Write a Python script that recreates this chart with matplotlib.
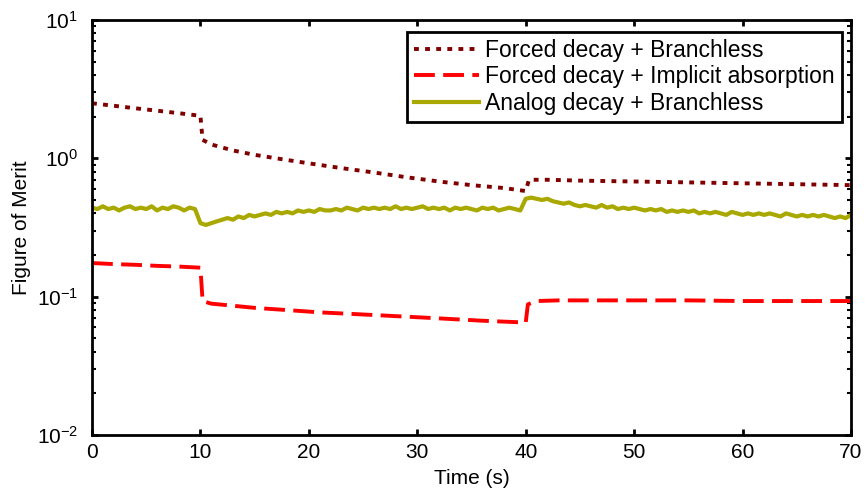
import numpy as np
import matplotlib
matplotlib.use("Agg")
import matplotlib.pyplot as plt
from matplotlib.ticker import LogLocator, NullFormatter

plt.rcParams['font.family'] = ['Liberation Sans', 'DejaVu Sans']
plt.rcParams['mathtext.fontset'] = 'custom'
plt.rcParams['mathtext.rm'] = 'Liberation Sans'
plt.rcParams['mathtext.it'] = 'Liberation Sans'
plt.rcParams['mathtext.default'] = 'regular'
plt.rcParams['lines.scale_dashes'] = False

labels = ["Forced decay + Branchless",
          "Forced decay + Implicit absorption",
          "Analog decay + Branchless"]
colors = ["#800000", "#FF0000", "#A8A800"]

# Forced decay + Branchless
t_fb = [0, 2, 4, 6, 8, 10, 10.2, 11, 13, 15, 17, 20, 23, 26, 29, 32, 35, 38, 40,
        40.3, 42, 45, 50, 55, 60, 65, 70]
v_fb = [2.50, 2.40, 2.30, 2.21, 2.12, 2.03, 1.36, 1.26, 1.14, 1.06, 1.00, 0.92, 0.85,
        0.79, 0.73, 0.68, 0.64, 0.61, 0.58, 0.70, 0.70, 0.69, 0.68, 0.67, 0.66, 0.65, 0.64]

# Forced decay + Implicit absorption
t_fi = [0, 2, 4, 6, 8, 10, 10.2, 11, 13, 15, 18, 21, 24, 27, 30, 33, 36, 38, 40,
        40.2, 41, 43, 46, 50, 55, 60, 65, 70]
v_fi = [0.175, 0.172, 0.170, 0.167, 0.165, 0.162, 0.093, 0.089, 0.086, 0.083, 0.080,
        0.077, 0.075, 0.073, 0.071, 0.069, 0.067, 0.066, 0.065, 0.088, 0.093, 0.094,
        0.094, 0.094, 0.094, 0.093, 0.093, 0.093]

# Analog decay + Branchless (sampled every 0.5 s)
t_ab = np.arange(0, 70.5, 0.5)
v_ab = [0.44, 0.43, 0.45, 0.43, 0.44, 0.42, 0.44, 0.45, 0.43, 0.44, 0.43, 0.45, 0.42,
        0.44, 0.43, 0.45, 0.44, 0.42, 0.44, 0.43, 0.34,
        0.33, 0.34, 0.35, 0.36, 0.37, 0.36, 0.38, 0.37, 0.39, 0.38, 0.39, 0.40, 0.39,
        0.41, 0.40, 0.41, 0.40, 0.42, 0.41, 0.42, 0.41, 0.43, 0.42, 0.42, 0.43, 0.42,
        0.44, 0.43, 0.42, 0.44, 0.43, 0.44, 0.43, 0.44, 0.43, 0.45, 0.43, 0.44, 0.43,
        0.44, 0.45, 0.43, 0.44, 0.43, 0.44, 0.42, 0.44, 0.43, 0.44, 0.43, 0.42, 0.44,
        0.43, 0.44, 0.42, 0.43, 0.44, 0.43, 0.42, 0.51,
        0.52, 0.51, 0.50, 0.51, 0.49, 0.48, 0.47, 0.48, 0.46, 0.45, 0.46, 0.45, 0.44,
        0.46, 0.44, 0.45, 0.43, 0.44, 0.43, 0.44, 0.43, 0.42, 0.43, 0.42, 0.43, 0.41,
        0.42, 0.41, 0.42, 0.41, 0.42, 0.40, 0.41, 0.40, 0.41, 0.40, 0.39, 0.41, 0.40,
        0.39, 0.40, 0.39, 0.40, 0.39, 0.40, 0.39, 0.38, 0.40, 0.39, 0.38, 0.39, 0.38,
        0.39, 0.38, 0.39, 0.38, 0.37, 0.38, 0.37, 0.39]

xticks = [0, 10, 20, 30, 40, 50, 60, 70]

fig = plt.figure(figsize=(8.68, 4.97), dpi=100)
ax = fig.add_axes([92/868, 1-435/497, 759/868, 415/497])

l1, = ax.plot(t_fb, v_fb, color=colors[0], lw=2.8, label=labels[0])
l1.set_dashes((3.5, 4.5))
l2, = ax.plot(t_fi, v_fi, color=colors[1], lw=2.8, label=labels[1])
l2.set_dashes((15, 6))
l3, = ax.plot(t_ab, v_ab, color=colors[2], lw=3.0, label=labels[2])

ax.set_yscale('log')
ax.set_ylim(1e-2, 1e1)
ax.set_xlim(0, 70)
ax.set_xticks(xticks)
ax.yaxis.set_major_locator(LogLocator(base=10, numticks=10))
ax.yaxis.set_minor_locator(LogLocator(base=10, subs=np.arange(2, 10), numticks=10))
ax.yaxis.set_minor_formatter(NullFormatter())

for s in ax.spines.values():
    s.set_linewidth(2.0)
ax.tick_params(which='major', direction='in', top=True, right=True, length=4,
               width=2, labelsize=15, pad=6)
ax.tick_params(axis='y', which='major', pad=10)
ax.tick_params(which='minor', direction='in', top=False, right=True, length=3,
               width=1.5)
ax.tick_params(axis='x', which='minor', bottom=False, top=False)

ax.set_xlabel("Time (s)", fontsize=15, labelpad=5)
ax.set_ylabel("Figure of Merit", fontsize=15, labelpad=4)

leg = ax.legend(loc='upper right', bbox_to_anchor=(0.988, 0.971), borderaxespad=0,
                fontsize=16.5, handlelength=2.8, labelspacing=0.15, handletextpad=0.3,
                fancybox=False, framealpha=1, edgecolor='black', borderpad=0.3)
leg.get_frame().set_linewidth(2.0)

fig.savefig("out.png", dpi=100)
